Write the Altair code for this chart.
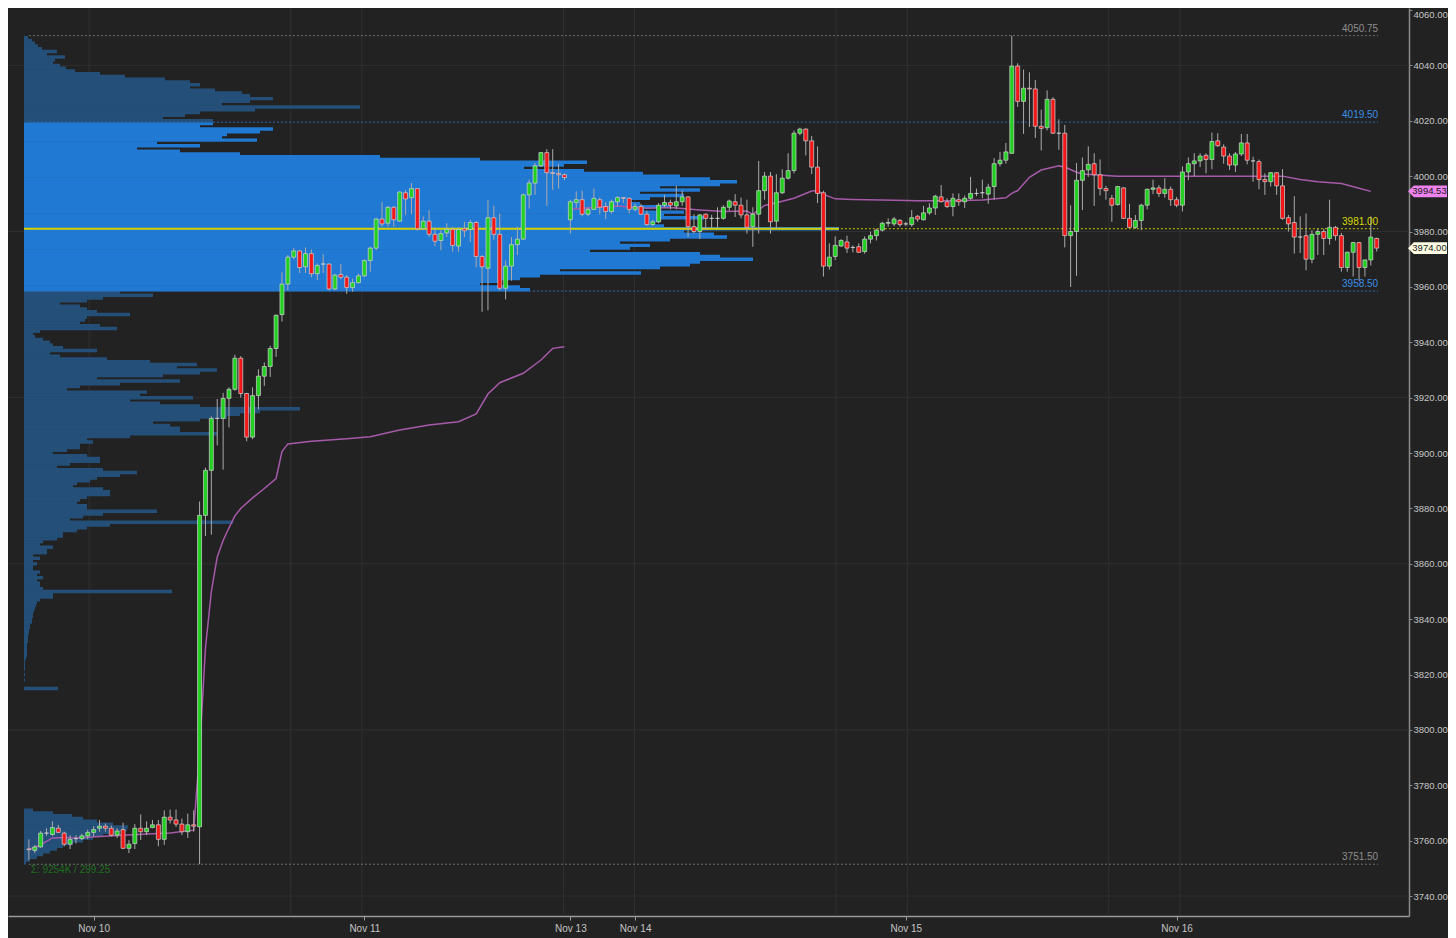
import altair as alt
import pandas as pd

# ---------------- candles (30-minute bars, index 0 = first bar) ----------------
opens = [
    3757.0, 3756.5, 3757.75, 3762.75, 3762.25, 3764.5, 3762.75, 3758.75, 3760.75, 3760.75,
    3761.75, 3763.0, 3764.5, 3765.25, 3764.5, 3762.0, 3764.0, 3757.25, 3759.0, 3764.5,
    3763.25, 3764.75, 3765.75, 3760.5, 3768.5, 3767.5, 3766.0, 3763.25, 3765.75, 3765.0,
    3877.5, 3893.75, 3912.5, 3912.5, 3919.75, 3923.0, 3934.25, 3921.5, 3905.75, 3920.75,
    3927.75, 3931.25, 3937.75, 3950.0, 3961.0, 3970.75, 3973.0, 3967.25, 3972.0, 3964.75,
    3968.25, 3968.25, 3959.25, 3964.5, 3963.5, 3959.75, 3961.5, 3964.0, 3969.5, 3974.0,
    3984.5, 3983.0, 3988.75, 3983.75, 3994.0, 3992.25, 3995.5, 3981.0, 3983.75, 3979.0,
    3976.75, 3979.5, 3980.75, 3974.75, 3981.0, 3980.75, 3983.25, 3971.0, 3966.75, 3985.0,
    3979.0, 3959.5, 3967.5, 3975.25, 3977.25, 3993.25, 3997.5, 4003.75, 4008.5, 4001.25,
    4001.0, 4000.5, 3984.25, 3990.5, 3991.5, 3986.25, 3988.0, 3991.5, 3989.0, 3987.25,
    3990.75, 3992.25, 3992.0, 3988.0, 3989.0, 3986.25, 3982.5, 3983.5, 3989.5, 3990.5,
    3989.25, 3990.75, 3992.5, 3981.75, 3980.0, 3986.25, 3984.75, 3984.75, 3984.75, 3988.75,
    3990.75, 3989.5, 3986.0, 3981.75, 3986.25, 3994.75, 4000.0, 3983.75, 3994.0, 3999.25,
    4002.0, 4015.5, 4017.0, 4012.75, 4003.25, 3994.0, 3967.5, 3971.0, 3974.75, 3976.25,
    3974.25, 3974.5, 3972.75, 3977.25, 3978.5, 3980.5, 3983.0, 3982.75, 3984.0, 3982.75,
    3982.5, 3985.5, 3984.25, 3986.75, 3988.5, 3992.5, 3990.75, 3989.0, 3991.5, 3990.75,
    3992.0, 3993.75, 3994.0, 3993.5, 3996.25, 4004.5, 4005.75, 4008.25, 4039.75, 4027.0,
    4031.75, 4031.5, 4018.0, 4017.5, 4027.75, 4015.5, 4015.5, 3978.5, 3980.0, 3998.5,
    4002.25, 4004.5, 4000.5, 3995.5, 3992.0, 3989.75, 3995.75, 3984.75, 3981.5, 3984.0,
    3989.5, 3995.25, 3995.75, 3993.75, 3995.25, 3991.5, 3989.5, 4001.5, 4004.5, 4005.5,
    4007.5, 4006.0, 4012.75, 4010.5, 4007.25, 4004.0, 4008.0, 4012.0, 4005.5, 4005.25,
    3998.75, 3998.0, 4001.25, 3996.5, 3985.0, 3983.25, 3978.0, 3978.5, 3970.0, 3979.0,
    3980.0, 3977.5, 3981.5, 3978.5, 3967.0, 3972.5, 3976.0, 3967.0, 3969.75, 3977.5,
]
highs = [
    3760.5, 3758.5, 3763.5, 3764.5, 3767.0, 3765.75, 3763.25, 3762.0, 3762.0, 3762.5,
    3764.0, 3765.25, 3767.5, 3766.25, 3765.5, 3764.5, 3766.5, 3760.25, 3766.0, 3769.5,
    3767.0, 3767.5, 3767.5, 3771.0, 3771.25, 3771.25, 3768.0, 3769.75, 3771.0, 3882.5,
    3894.75, 3913.25, 3919.5, 3921.75, 3923.75, 3935.5, 3935.0, 3921.75, 3923.75, 3930.25,
    3932.75, 3938.75, 3950.0, 3965.25, 3971.5, 3974.0, 3973.25, 3974.25, 3973.5, 3968.5,
    3971.75, 3968.5, 3964.75, 3968.25, 3964.25, 3963.0, 3964.75, 3970.0, 3974.5, 3985.0,
    3990.75, 3989.25, 3989.25, 3994.5, 3995.0, 3997.5, 3995.5, 3985.5, 3987.75, 3981.5,
    3980.5, 3983.0, 3981.75, 3981.5, 3983.5, 3984.25, 3983.75, 3971.5, 3991.5, 3989.25,
    3986.5, 3969.5, 3978.0, 3981.75, 3993.75, 3998.75, 4004.75, 4008.75, 4009.75, 4009.75,
    4004.5, 4001.0, 3991.5, 3994.5, 3994.75, 3988.75, 3995.5, 3992.25, 3990.5, 3991.5,
    3992.75, 3992.25, 3992.25, 3990.0, 3990.0, 3987.5, 3984.25, 3990.25, 3993.25, 3991.5,
    3996.5, 3994.75, 3992.75, 3986.25, 3986.25, 3986.5, 3986.0, 3988.75, 3989.5, 3991.5,
    3993.5, 3992.25, 3991.5, 3988.75, 4005.5, 4001.5, 4001.5, 4000.75, 4002.5, 4008.25,
    4016.5, 4017.5, 4017.25, 4014.5, 4010.75, 3994.75, 3975.75, 3978.25, 3977.25, 3978.5,
    3975.0, 3975.75, 3978.25, 3980.0, 3981.0, 3983.5, 3984.75, 3985.25, 3984.5, 3983.5,
    3987.75, 3986.0, 3989.25, 3990.25, 3993.25, 3996.75, 3992.0, 3993.75, 3993.75, 3993.0,
    3999.75, 3995.5, 3998.75, 3997.25, 4006.5, 4008.75, 4012.0, 4050.75, 4040.75, 4038.5,
    4037.5, 4034.75, 4024.0, 4031.0, 4028.5, 4020.5, 4018.5, 3989.5, 4004.75, 4006.75,
    4010.75, 4008.25, 4006.0, 3996.5, 3993.25, 3996.5, 3996.0, 3990.0, 3986.0, 3990.0,
    3995.5, 3998.75, 3996.75, 3999.25, 3996.25, 3992.5, 4003.5, 4006.75, 4008.25, 4008.25,
    4008.25, 4015.75, 4015.5, 4011.5, 4008.25, 4008.75, 4015.25, 4015.25, 4007.0, 4006.0,
    4001.0, 4001.5, 4001.5, 4002.5, 3986.0, 3992.75, 3985.5, 3986.5, 3980.5, 3981.0,
    3981.0, 3991.5, 3982.0, 3979.5, 3972.75, 3976.25, 3976.25, 3969.75, 3985.5, 3977.75,
]
lows = [
    3753.0, 3755.5, 3757.5, 3761.75, 3761.75, 3762.75, 3758.0, 3757.0, 3759.0, 3760.25,
    3760.5, 3761.5, 3763.25, 3763.25, 3761.5, 3761.0, 3757.0, 3755.5, 3757.0, 3760.25,
    3762.0, 3764.5, 3758.0, 3758.5, 3766.25, 3765.0, 3762.0, 3761.0, 3763.25, 3751.5,
    3870.0, 3870.5, 3902.75, 3894.0, 3909.25, 3922.5, 3920.0, 3904.25, 3905.0, 3915.75,
    3924.25, 3927.5, 3934.75, 3947.5, 3958.75, 3970.0, 3965.0, 3965.0, 3963.5, 3962.5,
    3965.0, 3958.75, 3958.75, 3962.75, 3957.5, 3958.25, 3961.25, 3963.5, 3965.5, 3973.25,
    3981.75, 3981.75, 3981.75, 3983.5, 3986.0, 3986.25, 3980.25, 3980.5, 3978.0, 3974.75,
    3973.25, 3978.0, 3972.75, 3972.75, 3978.0, 3976.25, 3967.0, 3951.0, 3951.5, 3977.0,
    3958.75, 3955.5, 3962.25, 3971.5, 3977.0, 3988.25, 3993.25, 4003.25, 3989.25, 3995.0,
    3995.5, 3998.5, 3979.25, 3988.5, 3985.5, 3985.5, 3988.0, 3986.25, 3984.5, 3986.5,
    3989.0, 3990.25, 3986.5, 3987.25, 3986.0, 3982.0, 3982.0, 3983.0, 3988.75, 3988.0,
    3988.0, 3989.25, 3978.0, 3979.25, 3977.25, 3980.5, 3981.25, 3981.25, 3984.25, 3987.5,
    3985.25, 3984.75, 3979.25, 3974.5, 3979.25, 3991.5, 3979.25, 3981.0, 3993.5, 3998.75,
    4001.0, 4014.75, 4007.5, 4000.75, 3990.25, 3963.75, 3966.25, 3969.75, 3974.5, 3972.25,
    3972.5, 3972.25, 3972.0, 3975.75, 3976.75, 3980.0, 3981.75, 3982.0, 3981.75, 3982.0,
    3981.75, 3983.5, 3984.0, 3986.0, 3986.0, 3990.5, 3988.5, 3985.5, 3989.25, 3988.5,
    3991.5, 3992.75, 3992.0, 3990.0, 3991.5, 4003.5, 4004.5, 4008.0, 4025.0, 4015.25,
    4017.75, 4013.75, 4009.25, 4016.5, 4015.25, 4009.5, 3974.25, 3960.0, 3964.0, 3987.75,
    3999.75, 3989.25, 3993.0, 3991.5, 3983.5, 3989.25, 3984.5, 3981.25, 3981.0, 3980.5,
    3988.0, 3993.5, 3992.5, 3992.25, 3989.25, 3988.75, 3987.25, 3998.5, 4000.0, 4003.25,
    4001.0, 4002.5, 4010.5, 4004.5, 4002.25, 4001.5, 4007.25, 4004.25, 3998.0, 3995.25,
    3993.25, 3996.25, 3993.25, 3984.25, 3980.0, 3972.0, 3972.25, 3966.0, 3968.5, 3971.5,
    3971.5, 3975.25, 3976.75, 3965.5, 3965.5, 3963.75, 3962.25, 3963.75, 3967.75, 3972.75,
]
closes = [
    3756.75, 3757.75, 3762.75, 3762.75, 3764.75, 3763.0, 3758.75, 3760.5, 3760.75, 3761.75,
    3763.0, 3764.0, 3765.25, 3764.5, 3762.0, 3763.5, 3757.25, 3758.75, 3764.5, 3763.25,
    3764.5, 3765.75, 3760.5, 3768.5, 3767.5, 3766.0, 3763.25, 3765.75, 3765.25, 3877.5,
    3893.75, 3912.5, 3912.5, 3919.75, 3923.0, 3934.25, 3921.5, 3905.75, 3920.75, 3927.75,
    3931.25, 3937.75, 3949.75, 3961.0, 3970.75, 3973.0, 3967.0, 3972.0, 3964.75, 3967.75,
    3968.25, 3959.25, 3964.25, 3963.5, 3959.75, 3961.5, 3964.0, 3969.5, 3974.0, 3984.5,
    3982.75, 3988.75, 3984.25, 3994.25, 3991.75, 3995.5, 3981.0, 3983.75, 3979.0, 3976.5,
    3979.25, 3980.75, 3975.0, 3980.75, 3980.25, 3983.25, 3971.0, 3967.25, 3985.0, 3979.0,
    3959.5, 3967.5, 3975.25, 3977.25, 3993.25, 3997.5, 4003.75, 4008.5, 4001.25, 4001.0,
    4000.5, 3999.5, 3990.75, 3991.5, 3986.25, 3988.0, 3992.0, 3988.75, 3987.25, 3990.75,
    3992.25, 3992.0, 3988.0, 3989.0, 3986.25, 3982.5, 3983.5, 3989.5, 3990.5, 3989.5,
    3990.75, 3992.5, 3981.75, 3980.0, 3986.0, 3984.75, 3984.75, 3984.75, 3988.75, 3991.0,
    3989.5, 3986.0, 3981.5, 3986.25, 3994.75, 4000.0, 3983.5, 3994.0, 3999.25, 4002.0,
    4015.5, 4017.0, 4012.75, 4003.25, 3993.75, 3967.5, 3970.75, 3975.0, 3976.75, 3974.0,
    3974.25, 3972.5, 3977.25, 3978.5, 3980.5, 3983.0, 3983.25, 3984.5, 3982.5, 3982.75,
    3985.0, 3984.5, 3986.75, 3988.5, 3992.75, 3990.75, 3989.0, 3992.0, 3990.75, 3992.0,
    3993.75, 3993.75, 3994.0, 3996.0, 4004.5, 4005.75, 4008.75, 4039.75, 4027.0, 4031.75,
    4031.5, 4018.0, 4017.25, 4027.75, 4015.5, 4015.5, 3978.5, 3980.0, 3998.5, 4002.0,
    4004.25, 4000.5, 3995.5, 3994.75, 3989.5, 3996.25, 3984.75, 3981.5, 3984.0, 3989.5,
    3995.25, 3995.75, 3993.75, 3995.25, 3991.5, 3989.5, 4001.5, 4004.5, 4005.5, 4007.25,
    4006.0, 4012.5, 4011.0, 4007.25, 4004.0, 4008.0, 4012.0, 4005.75, 4005.5, 3998.75,
    3998.0, 4001.25, 3996.5, 3984.75, 3982.75, 3978.0, 3978.0, 3970.0, 3979.0, 3980.0,
    3977.5, 3981.5, 3978.5, 3967.0, 3972.5, 3976.0, 3967.0, 3969.75, 3978.0, 3974.0,
]

# ---------------- VWAP lines (vertices read at bar indices) ----------------
vwap1_bars = [0, 2, 4, 6, 8, 12, 16, 20, 24, 28, 29, 30, 31, 32, 33, 34, 35, 36, 38, 40,
              42, 43, 44, 48, 54, 58, 63, 68, 73, 76, 78, 80, 84, 87, 89, 91]
vwap1_vals = [3756.8, 3758.5, 3761.0, 3761.2, 3761.0, 3761.5, 3762.0, 3762.4, 3762.8, 3763.8,
              3792.0, 3829.6, 3850.0, 3862.5, 3868.4, 3873.0, 3877.3, 3880.0, 3883.8, 3887.2,
              3890.8, 3900.5, 3903.3, 3904.3, 3905.2, 3905.9, 3908.3, 3910.1, 3911.3, 3914.1,
              3921.3, 3925.4, 3928.8, 3933.6, 3937.8, 3938.4]
vwap2_bars = [92, 96, 100, 105, 109, 114, 118, 122, 123, 124, 125, 127, 130, 133, 134, 135,
              137, 140, 145, 151, 157, 162, 166, 167, 168, 169, 170, 172, 175, 176, 178, 179,
              185, 197, 208, 213, 216, 219, 223, 226, 228]
vwap2_vals = [3988.0, 3988.7, 3989.2, 3988.4, 3988.7, 3987.8, 3987.2, 3987.4, 3986.2, 3987.8,
              3989.4, 3990.4, 3992.0, 3994.6, 3994.8, 3993.4, 3991.8, 3991.6, 3991.4, 3991.1,
              3991.1, 3991.4, 3992.2, 3993.8, 3994.8, 3997.2, 3999.6, 4002.2, 4003.7, 4003.3,
              4001.4, 4000.8, 4000.0, 4000.0, 4000.0, 4000.0, 3998.8, 3998.0, 3997.3, 3995.6,
              3994.5]

# ---------------- volume profile (relative volume per 1-point level) ----------------
profile_low_start = 3752
profile_low_vol = [2, 6, 13, 19, 26, 33, 39, 49, 59, 69, 79, 93, 103, 104, 89, 73, 59, 48, 29, 9]
profile_main_start = 3815
profile_main_vol = [
    34, 0, 0, 1, 0, 1, 0, 1, 1, 1,
    1, 2, 3, 3, 3, 3, 3, 4, 4, 4,
    5, 5, 6, 6, 8, 8, 9, 9, 10, 11,
    12, 13, 16, 29, 29, 148, 19, 16, 16, 13,
    19, 13, 16, 9, 9, 13, 9, 16, 9, 23,
    23, 29, 16, 19, 33, 39, 39, 53, 63, 86,
    209, 46, 59, 79, 133, 63, 63, 53, 56, 63,
    86, 86, 79, 49, 53, 66, 73, 96, 113, 79,
    33, 46, 76, 76, 63, 29, 43, 56, 56, 69,
    63, 106, 193, 156, 156, 146, 129, 176, 203, 216,
    236, 276, 176, 136, 106, 169, 116, 123, 43, 56,
    96, 156, 73, 139, 176, 193, 153, 173, 126, 83,
    36, 26, 73, 39, 29, 26, 19, 11, 9, 16,
    93, 76, 56, 61, 63, 106, 73, 63, 56, 36,
    63, 79, 129, 96, 506, 496, 456, 476, 496, 516,
    617, 536, 636, 666, 676, 729, 696, 676, 566, 606,
    626, 596, 646, 703, 690, 660, 815, 640, 626, 636,
    680, 640, 660, 620, 646, 616, 606, 626, 660, 616,
    676, 636, 696, 713, 686, 656, 619, 560, 500, 540,
    563, 456, 356, 216, 156, 113, 176, 133, 233, 198,
    203, 236, 249, 176, 189, 189, 139, 161, 176, 231,
    336, 198, 226, 249, 226, 218, 191, 166, 176, 166,
    141, 101, 76, 51, 42, 36, 29, 31, 41, 23,
    33, 18, 14, 11, 8, 4,
]

# ---------------- key levels and labels ----------------
level_prices = [4050.75, 4019.50, 3981.00, 3958.50, 3751.50]
level_line_colors = ["#6e6e6e", "#2b6cb5", "#c8c800", "#2b6cb5", "#6e6e6e"]
level_text_colors = ["#8e8e8e", "#3a8fe8", "#d8d800", "#3a8fe8", "#8e8e8e"]
va_low, va_high, poc_price = 3958.5, 4019.5, 3981.0

tag_prices = [3994.53, 3974.00]
tag_fills = ["#ee82ee", "#fffde4"]

date_ticks = [11, 57, 92, 103, 149, 195]
date_labels = ["Nov 10", "Nov 11", "Nov 13", "Nov 14", "Nov 15", "Nov 16"]
session_lines = [11, 45, 57, 91, 103, 137, 149, 183, 195]
grid_prices = [4040, 3980, 3920, 3860, 3800, 3740]
price_ticks = list(range(3740, 4061, 20))
sigma_text = "Σ: 9254K / 299.25"

# ---------------- data frames ----------------
n = len(opens)
candles = pd.DataFrame({"bar": list(range(n)), "o": opens, "h": highs, "l": lows, "c": closes})
candles["col"] = ["#22d022" if c > o else ("#f01818" if c < o else "#ececec")
                  for o, c in zip(opens, closes)]

vwap_df = pd.concat([
    pd.DataFrame({"bar": vwap1_bars, "v": vwap1_vals, "seg": "a"}),
    pd.DataFrame({"bar": vwap2_bars, "v": vwap2_vals, "seg": "b"}),
])

prof_p = list(range(profile_low_start, profile_low_start + len(profile_low_vol))) + \
    list(range(profile_main_start, profile_main_start + len(profile_main_vol)))
prof_v = profile_low_vol + profile_main_vol
profile_df = pd.DataFrame({"p": prof_p, "vol": prof_v})
profile_df = profile_df[profile_df["vol"] > 0]

last_bar = n - 1 + 0.25
ref_df = pd.DataFrame({
    "p": level_prices,
    "x0": [0] * len(level_prices),
    "x1": [last_bar] * len(level_prices),
    "lc": level_line_colors,
    "tc": level_text_colors,
    "t": [f"{v:.2f}" for v in level_prices],
})
tag_df = pd.DataFrame({"p": tag_prices, "fill": tag_fills, "t": [f"{v:.2f}" for v in tag_prices]})

# ---------------- scales / axes ----------------
PW, PH = 1401, 908
xs = alt.Scale(domain=[-2.699, 233.64], nice=False, zero=False)
ys = alt.Scale(domain=[3732.81, 4060.72], nice=False, zero=False)
ps = alt.Scale(domain=[-16, 1385], nice=False, zero=False)

label_expr = " : ".join(f"datum.value == {t} ? '{l}'" for t, l in zip(date_ticks, date_labels)) + " : ''"
x_axis = alt.Axis(orient="bottom", values=date_ticks, labelExpr=label_expr, grid=False, title=None,
                  domainColor="#9a9a9a", domainWidth=1.5, tickColor="#9a9a9a", tickSize=4,
                  labelColor="#c4c4c4", labelFontSize=10, labelPadding=3, labelFlush=False,
                  labelOverlap=False)
y_axis = alt.Axis(orient="right", values=price_ticks, format=".2f", grid=False, title=None,
                  domainColor="#8a8a8a", domainWidth=1.5, tickColor="#8a8a8a", tickSize=3,
                  labelColor="#c4c4c4", labelFontSize=9.5, labelPadding=1, labelFlush=4,
                  labelOverlap=False)


def X(f):
    return alt.X(f, scale=xs, axis=x_axis)


def Y(f):
    return alt.Y(f, scale=ys, axis=y_axis)


# ---------------- layers ----------------
vgrid = alt.Chart(pd.DataFrame({"b": session_lines})).mark_rule(color="#303030", strokeWidth=1).encode(
    x=alt.X("b:Q", scale=xs, axis=None))
hgrid = alt.Chart(pd.DataFrame({"p": grid_prices})).mark_rule(color="#303030", strokeWidth=1).encode(
    y=Y("p:Q"))
grid = alt.layer(vgrid, hgrid)

prof_rect = alt.Chart(profile_df).transform_calculate(
    y0="datum.p - 0.62", y1="datum.p + 0.62", v0="0",
    col=f"datum.p > {va_low} && datum.p < {va_high} ? '#2079d2' : '#244f78'",
).mark_rect().encode(
    x=alt.X("v0:Q", scale=ps, axis=None), x2="vol:Q",
    y=Y("y0:Q"), y2="y1:Q",
    color=alt.Color("col:N", scale=None),
)
poc_rule = alt.Chart(pd.DataFrame({"p": [poc_price], "v0": [0], "v1": [max(prof_v)]})).mark_rule(
    color="#d6d600", strokeWidth=2).encode(
    x=alt.X("v0:Q", scale=ps, axis=None), x2="v1:Q", y=Y("p:Q"))
profile = alt.layer(prof_rect, poc_rule)

reflines = alt.Chart(ref_df).mark_rule(strokeDash=[2, 2], strokeWidth=1).encode(
    x=X("x0:Q"), x2="x1:Q", y=Y("p:Q"), color=alt.Color("lc:N", scale=None))
reftext = alt.Chart(ref_df).mark_text(align="right", baseline="bottom", dy=-2, fontSize=10).encode(
    x=X("x1:Q"), y=Y("p:Q"), text="t:N", color=alt.Color("tc:N", scale=None))
vwap = alt.Chart(vwap_df).mark_line(color="#a65aa9", strokeWidth=1.5).encode(
    x=X("bar:Q"), y=Y("v:Q"), detail="seg:N")
wicks = alt.Chart(candles).mark_rule(color="#ababab", strokeWidth=1).encode(
    x=X("bar:Q"), y=Y("l:Q"), y2="h:Q")
bodies = alt.Chart(candles).mark_bar(size=4, stroke="#d4d4d4", strokeWidth=0.7).encode(
    x=X("bar:Q"), y=Y("o:Q"), y2="c:Q", color=alt.Color("col:N", scale=None))
sigma = alt.Chart(pd.DataFrame({"b": [0.3], "p": [3749.4], "t": [sigma_text]})).mark_text(
    align="left", baseline="middle", fontSize=10, color="#1f6e1f").encode(
    x=X("b:Q"), y=Y("p:Q"), text="t:N")
tag_path = "M-1,0L-0.7,-0.3L1,-0.3L1,0.3L-0.7,0.3Z"
tags = alt.Chart(tag_df).mark_point(shape=tag_path, filled=True, size=1521, opacity=1, strokeWidth=0).encode(
    x=alt.value(1419.5), y=Y("p:Q"), color=alt.Color("fill:N", scale=None))
tagtext = alt.Chart(tag_df).mark_text(align="center", baseline="middle", fontSize=9.5, color="#1a1a1a").encode(
    x=alt.value(1421.5), y=Y("p:Q"), text="t:N")

main = alt.layer(reflines, vwap, wicks, bodies, reftext, sigma, tags, tagtext)

chart = alt.layer(grid, profile, main).resolve_scale(x="independent").properties(
    width=PW, height=PH,
    padding={"left": 0, "top": 0, "right": 1440 - PW, "bottom": 22},
    autosize=alt.AutoSizeParams(type="none"),
    background="#222222",
).configure(font="Arial").configure_view(stroke="transparent")

chart.save("out.html", embed_options={"renderer": "svg", "actions": False})
